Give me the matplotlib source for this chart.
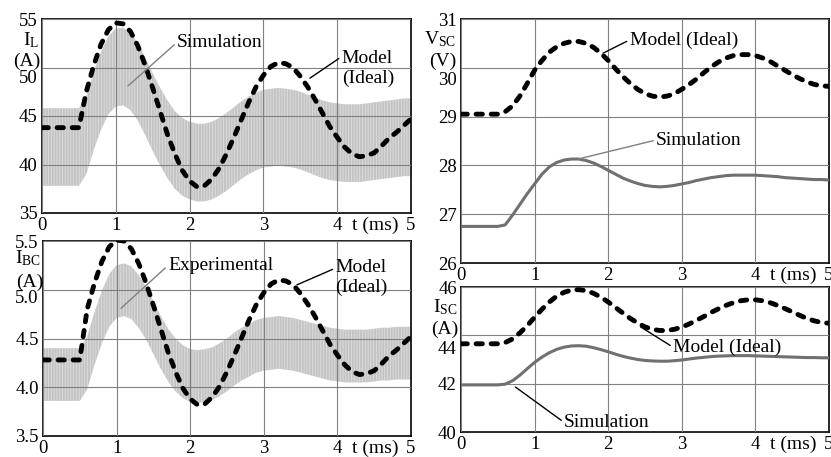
import matplotlib
matplotlib.use('Agg')
import matplotlib.pyplot as plt
from matplotlib.transforms import blended_transform_factory, ScaledTranslation

# time axis (ms)
t = [0.0, 0.1, 0.2, 0.3, 0.4, 0.5, 0.6, 0.7, 0.8, 0.9,
     1.0, 1.1, 1.2, 1.3, 1.4, 1.5, 1.6, 1.7, 1.8, 1.9,
     2.0, 2.1, 2.2, 2.3, 2.4, 2.5, 2.6, 2.7, 2.8, 2.9,
     3.0, 3.1, 3.2, 3.3, 3.4, 3.5, 3.6, 3.7, 3.8, 3.9,
     4.0, 4.1, 4.2, 4.3, 4.4, 4.5, 4.6, 4.7, 4.8, 4.9, 5.0]

# I_L (A)
il_model = [43.8, 43.8, 43.8, 43.8, 43.8, 43.8, 47.5, 50.2, 52.4, 53.9,
            54.6, 54.5, 53.7, 52.2, 50.2, 47.9, 45.5, 43.1, 41.1, 39.4,
            38.3, 37.7, 37.8, 38.5, 39.6, 41.1, 42.8, 44.6, 46.4, 48.0,
            49.2, 50.1, 50.5, 50.4, 50.0, 49.1, 48.0, 46.7, 45.3, 43.9,
            42.8, 41.8, 41.1, 40.8, 40.9, 41.2, 41.9, 42.7, 43.3, 44.0, 44.7]
il_sim = [41.8, 41.8, 41.8, 41.8, 41.8, 41.8, 43.0, 45.5, 47.6, 49.2,
          50.0, 50.1, 49.6, 48.5, 47.0, 45.4, 43.9, 42.6, 41.5, 40.8,
          40.4, 40.2, 40.2, 40.4, 40.8, 41.3, 41.9, 42.5, 43.0, 43.4,
          43.7, 43.8, 43.9, 43.8, 43.7, 43.5, 43.2, 42.9, 42.6, 42.4,
          42.3, 42.2, 42.2, 42.2, 42.3, 42.4, 42.5, 42.6, 42.7, 42.8, 42.8]
il_ripple = 4.0

# I_BC (A)
ibc_model = [4.28, 4.28, 4.28, 4.28, 4.28, 4.28, 4.80, 5.07, 5.29, 5.44,
             5.51, 5.50, 5.42, 5.27, 5.07, 4.84, 4.60, 4.36, 4.16, 3.99,
             3.88, 3.82, 3.83, 3.90, 4.01, 4.16, 4.33, 4.51, 4.69, 4.85,
             4.97, 5.06, 5.10, 5.09, 5.05, 4.96, 4.85, 4.72, 4.58, 4.44,
             4.33, 4.23, 4.16, 4.13, 4.14, 4.17, 4.24, 4.32, 4.38, 4.45, 4.52]
ibc_exp = [4.13, 4.13, 4.13, 4.13, 4.13, 4.13, 4.25, 4.50, 4.72, 4.89,
           4.98, 5.00, 4.97, 4.88, 4.76, 4.61, 4.46, 4.33, 4.23, 4.16,
           4.12, 4.11, 4.12, 4.14, 4.18, 4.23, 4.29, 4.34, 4.38, 4.42,
           4.44, 4.45, 4.46, 4.45, 4.44, 4.42, 4.40, 4.38, 4.36, 4.34,
           4.33, 4.32, 4.32, 4.32, 4.32, 4.33, 4.34, 4.34, 4.35, 4.35, 4.35]
ibc_ripple = 0.27

# V_SC (V)
vsc_model = [29.05, 29.05, 29.05, 29.05, 29.05, 29.05, 29.10, 29.22, 29.42, 29.68,
             29.95, 30.15, 30.32, 30.43, 30.50, 30.54, 30.54, 30.50, 30.42, 30.30,
             30.15, 29.98, 29.82, 29.68, 29.56, 29.47, 29.42, 29.40, 29.42, 29.47,
             29.56, 29.66, 29.77, 29.90, 30.02, 30.12, 30.20, 30.25, 30.27, 30.27,
             30.25, 30.20, 30.13, 30.04, 29.95, 29.86, 29.78, 29.71, 29.66, 29.63, 29.62]
vsc_sim = [26.75, 26.75, 26.75, 26.75, 26.75, 26.75, 26.78, 26.98, 27.20, 27.42,
           27.62, 27.82, 27.97, 28.06, 28.11, 28.13, 28.13, 28.10, 28.05, 27.98,
           27.90, 27.82, 27.74, 27.68, 27.63, 27.59, 27.57, 27.56, 27.57, 27.59,
           27.62, 27.65, 27.69, 27.72, 27.75, 27.77, 27.79, 27.80, 27.80, 27.80,
           27.80, 27.79, 27.78, 27.77, 27.75, 27.74, 27.73, 27.72, 27.71, 27.71, 27.70]

# I_SC (A)
isc_model = [43.65, 43.65, 43.65, 43.65, 43.65, 43.65, 43.70, 43.85, 44.10, 44.40,
             44.75, 45.08, 45.38, 45.62, 45.78, 45.87, 45.89, 45.85, 45.74, 45.58,
             45.38, 45.15, 44.92, 44.70, 44.51, 44.35, 44.25, 44.20, 44.20, 44.25,
             44.34, 44.47, 44.62, 44.78, 44.95, 45.10, 45.24, 45.35, 45.43, 45.47,
             45.47, 45.43, 45.35, 45.24, 45.11, 44.97, 44.83, 44.70, 44.60, 44.53, 44.50]
isc_sim = [41.95, 41.95, 41.95, 41.95, 41.95, 41.95, 41.98, 42.12, 42.35, 42.62,
           42.88, 43.10, 43.28, 43.42, 43.51, 43.56, 43.57, 43.55, 43.49, 43.41,
           43.32, 43.22, 43.13, 43.06, 43.00, 42.96, 42.94, 42.93, 42.93, 42.95,
           42.98, 43.02, 43.06, 43.09, 43.12, 43.14, 43.15, 43.16, 43.16, 43.16,
           43.15, 43.14, 43.13, 43.12, 43.11, 43.10, 43.09, 43.08, 43.08, 43.07, 43.07]

x_ticks = [0, 1, 2, 3, 4, 5]

plt.rcParams['font.family'] = ['Liberation Serif', 'DejaVu Serif']
plt.rcParams['mathtext.fontset'] = 'custom'
plt.rcParams['mathtext.rm'] = 'Liberation Serif'
plt.rcParams['mathtext.it'] = 'Liberation Serif:italic'
plt.rcParams['hatch.linewidth'] = 0.6

W, H = 831, 457
fig = plt.figure(figsize=(W / 100, H / 100), dpi=100)


def px_axes(left, top, right, bottom):
    return fig.add_axes([left / W, 1 - bottom / H, (right - left) / W, (bottom - top) / H])


def style(ax, yticks, ylabels, drop_px):
    ax.set_xlim(0, 5)
    ax.set_ylim(yticks[0], yticks[-1])
    ax.set_xticks(x_ticks)
    ax.set_xticklabels([str(v) for v in x_ticks])
    ax.set_yticks(yticks)
    ax.set_yticklabels(ylabels)
    ax.tick_params(length=0, labelsize=13.5, pad=3)
    ax.grid(True, color='#808080', lw=0.8)
    ax.set_axisbelow(False)
    for s in ax.spines.values():
        s.set_linewidth(1.2)
    # second-from-top y label sits lower, under the unit label
    lab = ax.get_yticklabels()[-2]
    lab.set_transform(lab.get_transform() +
                      ScaledTranslation(0, -drop_px / 100, fig.dpi_scale_trans))
    tr = blended_transform_factory(ax.transData, ax.transAxes)
    ax.annotate('t (ms)', xy=(4.52, 0), xycoords=tr, xytext=(0, -3),
                textcoords='offset points', ha='center', va='top', fontsize=14)


def ripple_band(ax, centre, half):
    lo = [v - half for v in centre]
    hi = [v + half for v in centre]
    ax.fill_between(t, lo, hi, facecolor='#c4c4c4', edgecolor='#dedede',
                    hatch='||||||', lw=0, zorder=2)


def model_line(ax, y):
    ax.plot(t, y, color='black', lw=3.5, linestyle=(0, (1.3, 1.8)),
            dash_capstyle='round', zorder=4)


def leader(ax, text, xy, xytext, color, rel=0.5):
    ax.annotate(text, xy=xy, xytext=xytext, fontsize=14, ha='left', va='center',
                arrowprops=dict(arrowstyle='-', color=color, lw=1.0,
                                shrinkA=0, shrinkB=0, relpos=(0, rel)),
                zorder=6)


# --- I_L
ax1 = px_axes(42, 19, 411, 213)
ripple_band(ax1, il_sim, il_ripple)
model_line(ax1, il_model)
style(ax1, [35, 40, 45, 50, 55], ['35', '40', '45', '50', '55'], 9)
leader(ax1, 'Simulation', (1.165, 48.1), (1.83, 52.6), '#808080')
leader(ax1, 'Model\n(Ideal)', (3.63, 48.9), (4.06, 49.9), 'black', 0.82)

# --- I_BC
ax2 = px_axes(43, 241, 411, 436)
ripple_band(ax2, ibc_exp, ibc_ripple)
model_line(ax2, ibc_model)
style(ax2, [3.5, 4.0, 4.5, 5.0, 5.5], ['3.5', '4.0', '4.5', '5.0', '5.5'], 7)
leader(ax2, 'Experimental', (1.06, 4.81), (1.70, 5.25), '#808080')
leader(ax2, 'Model\n(Ideal)', (3.45, 5.05), (3.97, 5.13), 'black', 0.74)

# --- V_SC
ax3 = px_axes(461, 19, 829, 263)
ax3.plot(t, vsc_sim, color='#707070', lw=2.2, zorder=3)
model_line(ax3, vsc_model)
style(ax3, [26, 27, 28, 29, 30, 31], ['26', '27', '28', '29', '30', '31'], 11)
leader(ax3, 'Model (Ideal)', (1.93, 30.30), (2.29, 30.57), 'black')
leader(ax3, 'Simulation', (1.59, 28.13), (2.65, 28.52), '#808080')

# --- I_SC
ax4 = px_axes(461, 287, 829, 432)
ax4.plot(t, isc_sim, color='#707070', lw=2.2, zorder=3)
model_line(ax4, isc_model)
style(ax4, [40, 42, 44, 46], ['40', '42', '44', '46'], 12)
leader(ax4, 'Model (Ideal)', (2.44, 44.35), (2.88, 43.51), 'black')
leader(ax4, 'Simulation', (0.74, 41.86), (1.40, 40.40), 'black')


# axis name labels in the left margins
def side_label(x, y, s):
    fig.text(x / W, 1 - y / H, s, ha='right', va='center', fontsize=14)


side_label(39, 40, r'I$_{\mathrm{L}}$')
side_label(40, 61, '(A)')
side_label(41, 258, r'I$_{\mathrm{BC}}$')
side_label(43, 282, '(A)')
side_label(456, 39, r'V$_{\mathrm{SC}}$')
side_label(456, 61, '(V)')
side_label(457, 307, r'I$_{\mathrm{SC}}$')
side_label(458, 329, '(A)')

plt.savefig('out.png', dpi=100)
